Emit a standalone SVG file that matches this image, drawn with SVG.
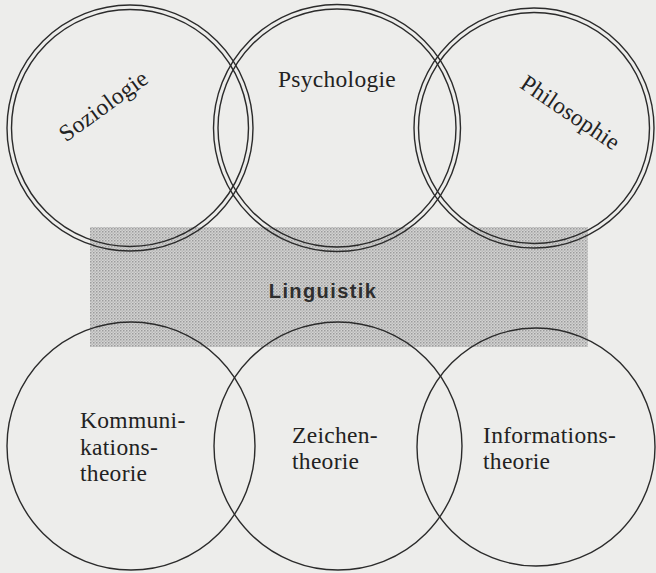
<svg xmlns="http://www.w3.org/2000/svg" width="656" height="573" viewBox="0 0 656 573">
  <defs>
    <!-- fine halftone screen for the Linguistik band -->
    <pattern id="screen" width="3" height="3" patternUnits="userSpaceOnUse">
      <rect width="3" height="3" fill="#d3d3d2"/>
      <rect x="0" y="0" width="1.5" height="1.5" fill="#9c9c9c"/>
      <rect x="1.5" y="1.5" width="1.5" height="1.5" fill="#b9b9b9"/>
    </pattern>
  </defs>
  <style>
    .ring { fill: none; stroke: #2b2b2b; stroke-width: 1.4; }
    .label { font-family: "Liberation Serif", "Times New Roman", serif; font-size: 23.5px; letter-spacing: 0.3px; fill: #222; }
    .band-label { font-family: "Liberation Sans", Arial, sans-serif; font-weight: bold; font-size: 20px; letter-spacing: 1.4px; fill: #2e2e2e; }
  </style>

  <!-- page -->
  <rect width="656" height="573" fill="#ededeb"/>

  <!-- central band -->
  <g id="linguistik">
    <rect x="90" y="227" width="498" height="120" fill="url(#screen)"/>
    <text class="band-label" x="323" y="298" text-anchor="middle">Linguistik</text>
  </g>

  <!-- upper row: double rings -->
  <g id="soziologie">
    <circle class="ring" cx="130" cy="128" r="123"/>
    <circle class="ring" cx="130" cy="128" r="118.5"/>
    <text class="label" text-anchor="middle" transform="translate(108 112) rotate(-36)">Soziologie</text>
  </g>
  <g id="psychologie">
    <circle class="ring" cx="337" cy="128" r="123.5"/>
    <circle class="ring" cx="337" cy="128" r="119"/>
    <text class="label" x="337" y="87" text-anchor="middle">Psychologie</text>
  </g>
  <g id="philosophie">
    <circle class="ring" cx="534" cy="128" r="120"/>
    <circle class="ring" cx="534" cy="128" r="115.5"/>
    <text class="label" text-anchor="middle" transform="translate(566 119) rotate(34)">Philosophie</text>
  </g>

  <!-- lower row: single rings -->
  <g id="kommunikationstheorie">
    <circle class="ring" cx="131" cy="446" r="124"/>
    <text class="label" x="80" y="428">Kommuni-</text>
    <text class="label" x="80" y="455">kations-</text>
    <text class="label" x="80" y="481">theorie</text>
  </g>
  <g id="zeichentheorie">
    <circle class="ring" cx="338" cy="446" r="124"/>
    <text class="label" x="292" y="443">Zeichen-</text>
    <text class="label" x="292" y="469">theorie</text>
  </g>
  <g id="informationstheorie">
    <circle class="ring" cx="536" cy="447" r="119"/>
    <text class="label" x="483" y="443">Informations-</text>
    <text class="label" x="483" y="469">theorie</text>
  </g>
</svg>
